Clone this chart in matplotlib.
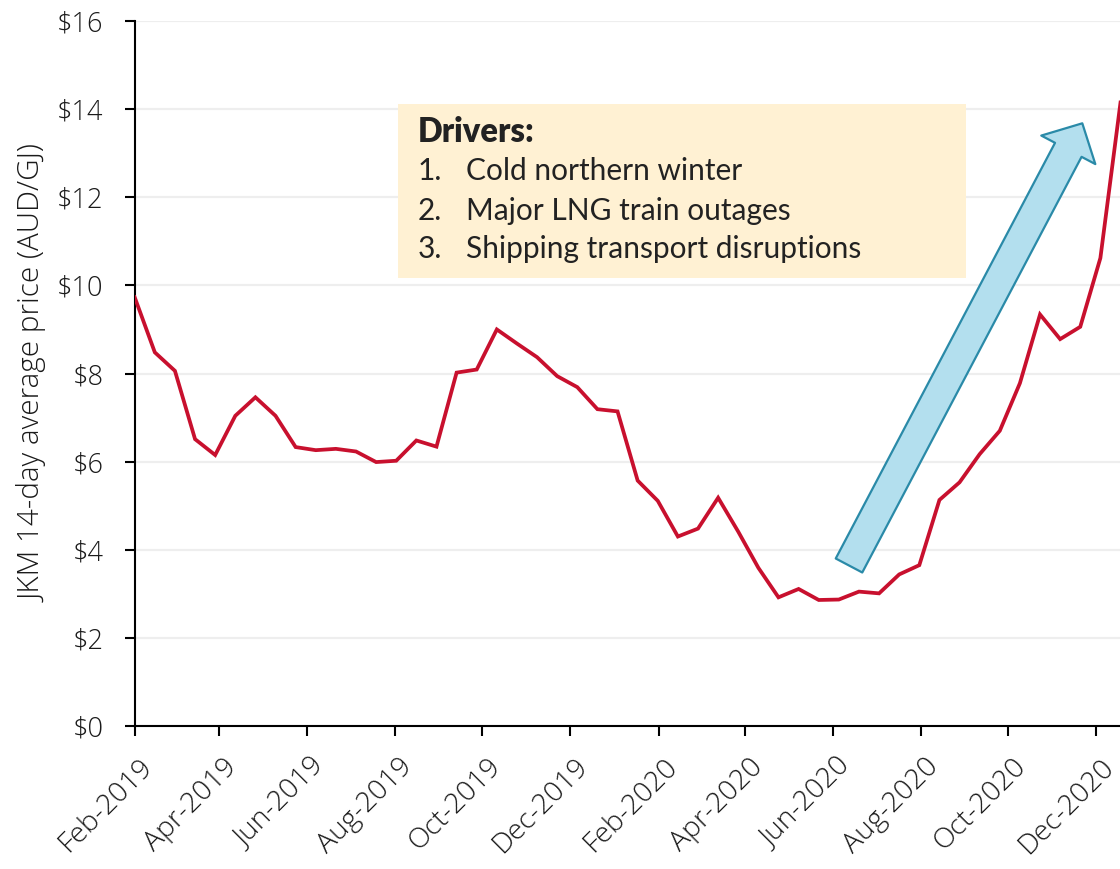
import matplotlib
matplotlib.use("Agg")
import matplotlib.pyplot as plt
import matplotlib.dates as mdates
from matplotlib.patches import Rectangle, FancyArrowPatch, ArrowStyle
from matplotlib.transforms import ScaledTranslation
import pandas as pd

# ---- data ----
start_date = "2019-02-01"
n_points = 50
dates = pd.date_range(start_date, periods=n_points, freq="14D")
jkm_price = [9.73, 8.48, 8.06, 6.51, 6.15, 7.04, 7.46, 7.04, 6.33, 6.26,
             6.29, 6.23, 5.99, 6.02, 6.48, 6.34, 8.02, 8.09, 9.00, 8.68,
             8.37, 7.94, 7.69, 7.19, 7.14, 5.57, 5.11, 4.30, 4.48, 5.18,
             4.41, 3.59, 2.92, 3.11, 2.86, 2.87, 3.05, 3.01, 3.44, 3.65,
             5.13, 5.53, 6.17, 6.70, 7.78, 9.34, 8.78, 9.06, 10.62, 14.15]
y_ticks = [0, 2, 4, 6, 8, 10, 12, 14, 16]
y_label = "JKM 14-day average price (AUD/GJ)"
box_title = "Drivers:"
box_items = ["Cold northern winter", "Major LNG train outages",
             "Shipping transport disruptions"]

# ---- figure ----
W, H = 1120, 869
fig = plt.figure(figsize=(W / 100, H / 100), dpi=100)
ax_l, ax_r, ax_t, ax_b = 134.7, 1120.5, 21, 726
ax = fig.add_axes([ax_l / W, 1 - ax_b / H, (ax_r - ax_l) / W, (ax_b - ax_t) / H])

tick_font = "Open Sans"
box_font = "Lato"
text_col = "#1a1a1a"

ax.plot(dates, jkm_price, color="#c8102e", lw=2.7, solid_joinstyle="miter", zorder=3)

ax.set_ylim(0, 16)
ax.set_xlim(dates[0], dates[-1])
ax.set_yticks(y_ticks)
ax.set_yticklabels([f"${v}" for v in y_ticks])
ax.yaxis.grid(True, color="#eeeeee", lw=1.6, zorder=0)
ax.set_axisbelow(True)

ax.xaxis.set_major_locator(mdates.MonthLocator(bymonth=[2, 4, 6, 8, 10, 12]))
ax.xaxis.set_major_formatter(mdates.DateFormatter("%b-%Y"))

for s in ["top", "right"]:
    ax.spines[s].set_visible(False)
for s in ["left", "bottom"]:
    ax.spines[s].set_linewidth(1.5)
    ax.spines[s].set_color("black")

ax.tick_params(axis="y", length=7.5, width=1.5, pad=15, labelsize=19.5, direction="out")
ax.tick_params(axis="x", length=7.5, width=1.5, pad=12, labelsize=20.3, direction="out")
for lab in ax.get_yticklabels():
    lab.set_fontfamily(tick_font)
    lab.set_fontweight("light")
    lab.set_color(text_col)
offset = ScaledTranslation(4 / 100, 0, fig.dpi_scale_trans)
for lab in ax.get_xticklabels():
    lab.set_fontfamily(tick_font)
    lab.set_fontweight("light")
    lab.set_color(text_col)
    lab.set_rotation(45)
    lab.set_ha("right")
    lab.set_va("top")
    lab.set_rotation_mode("anchor")
    lab.set_transform(lab.get_transform() + offset)

ax.set_ylabel(y_label, fontsize=21.3, fontfamily=tick_font, fontweight="light",
              color=text_col, labelpad=6)

# ---- text box ----
def fx(px):
    return (px - ax_l) / (ax_r - ax_l)

def fy(py):
    return (ax_b - py) / (ax_b - ax_t)

ax.add_patch(Rectangle((fx(398), fy(278)), fx(966) - fx(398), fy(104) - fy(278),
                       transform=ax.transAxes, facecolor="#fff1d3", edgecolor="none",
                       zorder=4))
ax.text(fx(418), fy(132), box_title, transform=ax.transAxes, fontsize=23.5,
        fontweight="heavy", fontfamily=box_font, color="#222222", va="center", zorder=5)
for i, (item, yy) in enumerate(zip(box_items, [171, 211, 249])):
    ax.text(fx(418), fy(yy), f"{i + 1}.", transform=ax.transAxes, fontsize=21.5,
            fontfamily=box_font, color="#222222", va="center", zorder=5)
    ax.text(fx(466), fy(yy), item, transform=ax.transAxes, fontsize=21.5,
            fontfamily=box_font, color="#222222", va="center", zorder=5)

# ---- arrow ----
style = ArrowStyle("Simple", head_length=21.6, head_width=44, tail_width=21.6)
arrow = FancyArrowPatch((fx(849), fy(565.5)), (fx(1082.3), fy(123.3)),
                        transform=ax.transAxes, arrowstyle=style, mutation_scale=1,
                        shrinkA=0, shrinkB=0, facecolor="#b3dfee",
                        edgecolor="#2a8aa8", lw=1.6, zorder=4)
ax.add_patch(arrow)

fig.savefig("out.png", dpi=100)
